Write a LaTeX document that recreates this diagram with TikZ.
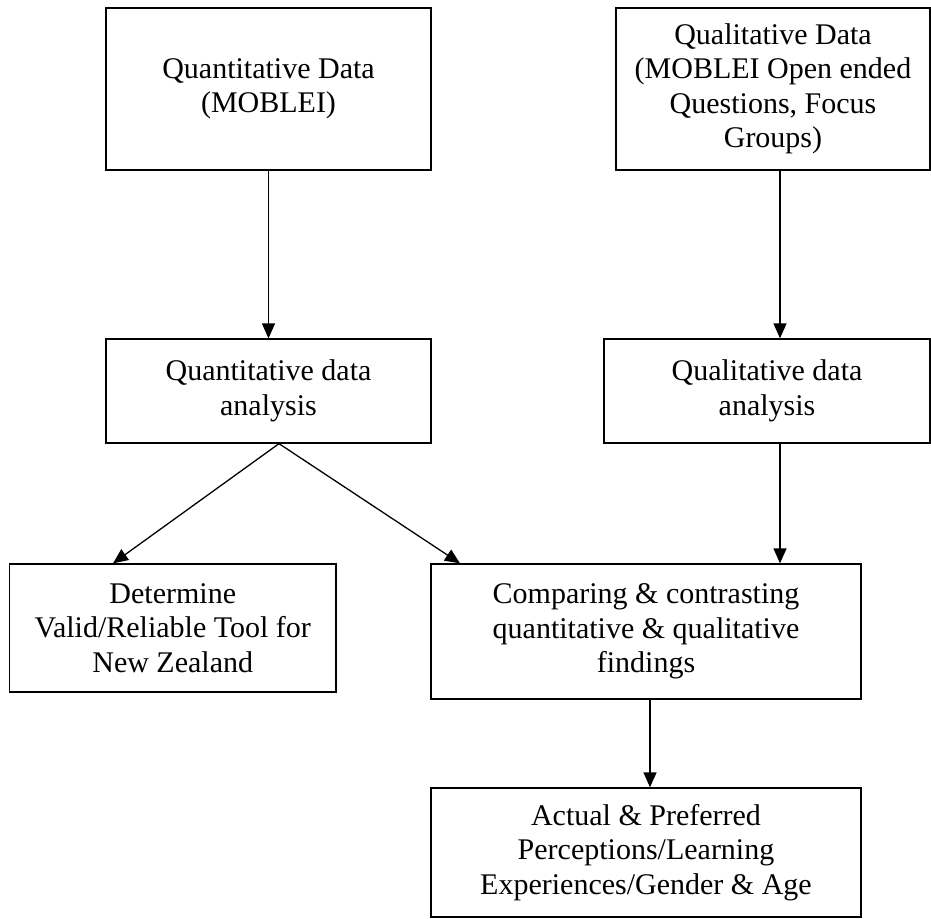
\documentclass[tikz,border=0pt]{standalone}
\usepackage{fontspec}
\setmainfont{Liberation Serif}
\usetikzlibrary{arrows.meta}
\begin{document}
\begin{tikzpicture}[x=1pt,y=-1pt,
  box/.style={draw=black,line width=1.3pt,inner sep=0pt,align=center,
    font=\fontsize{30}{34.5}\selectfont},
  conn/.style={line width=1.3pt,-{Triangle[length=15pt,width=13pt]}}]
\useasboundingbox (0,0) rectangle (931,918);
\fill[white] (0,0) rectangle (931,918);
\node[box,minimum width=325pt,minimum height=162pt] (q1) at (268.5,89)
  {Quantitative Data\\(MOBLEI)};
\node[box,minimum width=314pt,minimum height=162pt] (q2) at (773,89)
  {Qualitative Data\\(MOBLEI Open ended\\Questions, Focus\\Groups)};
\node[box,minimum width=325pt,minimum height=104pt] (q3) at (268.5,391)
  {Quantitative data\\analysis};
\node[box,minimum width=326pt,minimum height=104pt] (q4) at (767,391)
  {Qualitative data\\analysis};
\node[box,minimum width=326.5pt,minimum height=128pt] (q5) at (172.75,628)
  {Determine\\Valid/Reliable Tool for\\New Zealand};
\node[box,minimum width=430pt,minimum height=135pt] (q6) at (646,631.5)
  {Comparing \& contrasting\\quantitative \& qualitative\\findings};
\node[box,minimum width=430pt,minimum height=129pt] (q7) at (646,852.5)
  {Actual \& Preferred\\Perceptions/Learning\\Experiences/Gender \& Age};
\draw[conn] (q1.south) -- (q3.north);
\draw[conn] ([xshift=7pt]q2.south) -- ([xshift=13pt]q4.north);
\draw[conn] ([xshift=10.5pt]q3.south) -- ([xshift=-59.75pt]q5.north);
\draw[conn] ([xshift=10.5pt]q3.south) -- ([xshift=-186pt]q6.north);
\draw[conn] ([xshift=13pt]q4.south) -- ([xshift=134pt]q6.north);
\draw[conn] ([xshift=4pt]q6.south) -- ([xshift=4pt]q7.north);
\end{tikzpicture}
\end{document}
